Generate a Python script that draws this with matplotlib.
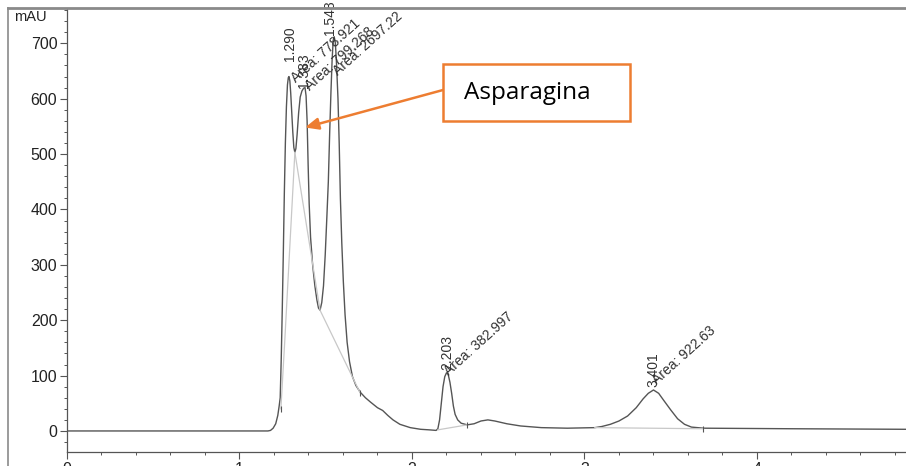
import matplotlib.pyplot as plt
from matplotlib.lines import Line2D
from matplotlib.patches import FancyBboxPatch
from matplotlib.ticker import MultipleLocator

# trace (min, mAU)
time_min = [0.0, 1.165, 1.18, 1.195, 1.21, 1.222, 1.230, 1.236, 1.242, 1.248,
            1.254, 1.260, 1.266, 1.272, 1.278, 1.283, 1.287, 1.292, 1.297, 1.303,
            1.309, 1.315, 1.321, 1.327, 1.334, 1.343, 1.352, 1.362, 1.372, 1.380,
            1.386, 1.392, 1.398, 1.404, 1.412, 1.424, 1.437, 1.449, 1.458, 1.467,
            1.477, 1.487, 1.497, 1.507, 1.515, 1.523, 1.530, 1.537, 1.543, 1.549,
            1.556, 1.563, 1.571, 1.578, 1.585, 1.593, 1.602, 1.612, 1.624, 1.638,
            1.655, 1.675, 1.700, 1.730, 1.760, 1.800, 1.830, 1.860, 1.890, 1.930,
            1.990, 2.050, 2.100, 2.140, 2.150, 2.160, 2.170, 2.180, 2.190, 2.200,
            2.210, 2.220, 2.230, 2.240, 2.250, 2.265, 2.285, 2.320, 2.360, 2.400,
            2.440, 2.480, 2.550, 2.630, 2.750, 2.900, 3.060, 3.100, 3.150, 3.200,
            3.250, 3.300, 3.340, 3.370, 3.400, 3.430, 3.460, 3.500, 3.540, 3.580,
            3.620, 3.690, 4.200, 4.864]
signal = [0, 0, 1, 5, 13, 28, 45, 60, 130, 220,
          320, 430, 520, 585, 625, 638, 640, 632, 610, 575,
          540, 512, 503, 510, 535, 575, 603, 614, 619, 620,
          605, 560, 480, 410, 350, 300, 262, 236, 222, 218,
          232, 262, 318, 390, 450, 540, 610, 670, 705, 712,
          700, 660, 600, 520, 420, 340, 270, 210, 160, 125,
          98, 82, 70, 60, 52, 42, 37, 28, 20, 12,
          6, 3, 2, 1, 4, 20, 50, 80, 98, 105,
          102, 88, 68, 45, 30, 20, 14, 11, 13, 18,
          20, 18, 13, 9, 6, 5, 6, 8, 12, 18,
          27, 42, 58, 68, 74, 68, 55, 38, 22, 12,
          7, 5, 4, 3]

# integration baselines
base_t = [[1.321, 1.467, 1.699], [1.321, 1.262, 1.240], [2.150, 2.320], [3.060, 3.690]]
base_v = [[503, 218, 69], [503, 160, 40], [2, 11], [6, 4]]

# peak labels
peak_rt = [1.290, 1.383, 1.548, 2.203, 3.401]
peak_h = [640, 620, 712, 105, 74]
peak_area = ['778.921', '799.268', '2697.22', '382.997', '922.63']

# label offsets in points (rt label, area label)
rt_off = [(0, 11), (-1, 0), (-3, 1), (0, 2), (0, 2)]
area_off = [(6, -6), (5, -4), (4, -30), (3, -4), (4, 2)]

x_max = 4.864
y_min, y_max = -38, 762
font = 'Liberation Sans'

fig = plt.figure(figsize=(9.06, 4.66), dpi=100)
ax = fig.add_axes([67 / 906, 1 - 452 / 466, 1 - 67 / 906, (452 - 9) / 466])

ax.plot(time_min, signal, color='#555555', lw=1.0)
for bt, bv in zip(base_t, base_v):
    ax.plot(bt, bv, color='#c8c8c8', lw=0.9)
    ax.plot(bt[-1:], bv[-1:], marker='|', color='#555555', ms=5, mew=0.8)

for i, (rt, h, area) in enumerate(zip(peak_rt, peak_h, peak_area)):
    ax.annotate(f'{rt:.3f}', xy=(rt, h), xytext=rt_off[i], textcoords='offset points',
                rotation=90, ha='center', va='bottom', fontsize=10,
                family=font, color='#333333', annotation_clip=False)
    ax.annotate(f'Area: {area}', xy=(rt, h), xytext=area_off[i], textcoords='offset points',
                rotation=42, rotation_mode='anchor', ha='left', va='bottom',
                fontsize=10, family=font, color='#333333', annotation_clip=False)

ax.set_xlim(0, x_max)
ax.set_ylim(y_min, y_max)
ax.xaxis.set_major_locator(MultipleLocator(1))
ax.xaxis.set_minor_locator(MultipleLocator(0.2))
ax.yaxis.set_minor_locator(MultipleLocator(20))
ax.set_yticks(range(0, 701, 100))
ax.tick_params(axis='both', which='major', length=5, width=0.8, color='#555555',
               labelsize=11.5, labelcolor='#222222', pad=2)
ax.tick_params(axis='both', which='minor', length=2.5, width=0.7, color='#555555')
for lab in ax.get_xticklabels() + ax.get_yticklabels():
    lab.set_family(font)
for side in ['top', 'right']:
    ax.spines[side].set_visible(False)
for side in ['left', 'bottom']:
    ax.spines[side].set_color('#555555')
    ax.spines[side].set_linewidth(0.9)

fig.text(14 / 906, 1 - 17 / 466, 'mAU', fontsize=10.5, family=font,
         va='center', ha='left', color='#222222')

# page frame
fig.add_artist(Line2D([8 / 906, 1], [1 - 8 / 466] * 2, color='#8a8a8a', lw=2))
fig.add_artist(Line2D([8 / 906] * 2, [0, 1 - 8 / 466], color='#8a8a8a', lw=1.2))

# callout
orange = '#ED7D31'
fig.add_artist(FancyBboxPatch((443 / 906, 1 - 121 / 466), 187 / 906, 57 / 466,
                              boxstyle='square,pad=0', fc='white', ec=orange, lw=1.8))
fig.text(464 / 906, 1 - 93 / 466, 'Asparagina', fontsize=17.5, family='Open Sans',
         va='center', ha='left', color='black')
ax.annotate('', xy=(1.38, 548), xycoords='data',
            xytext=(443 / 906, 1 - 90 / 466), textcoords='figure fraction',
            arrowprops=dict(arrowstyle='-|>,head_length=0.8,head_width=0.35',
                            color=orange, lw=1.8, shrinkA=0, shrinkB=0))

fig.savefig('out.png', dpi=100)
